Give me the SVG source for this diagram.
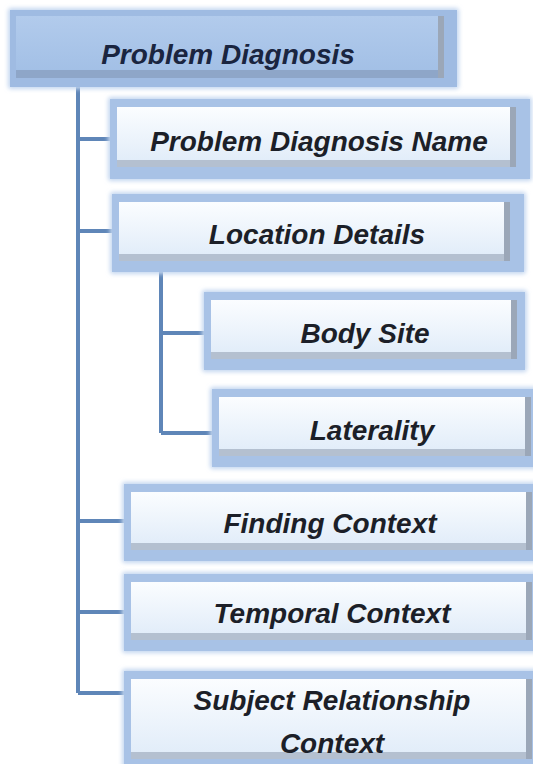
<svg xmlns="http://www.w3.org/2000/svg" width="533" height="764" viewBox="0 0 533 764">
<defs>
<linearGradient id="gChild" x1="0" y1="0" x2="0" y2="1">
<stop offset="0" stop-color="#fbfdff"/>
<stop offset="1" stop-color="#e2edf9"/>
</linearGradient>
<linearGradient id="gRoot" x1="0" y1="0" x2="0" y2="1">
<stop offset="0" stop-color="#b2cbec"/>
<stop offset="1" stop-color="#a3c0e6"/>
</linearGradient>
<filter id="blur" x="-5%" y="-10%" width="110%" height="120%"><feGaussianBlur stdDeviation="2"/></filter>
</defs>
<style>
.glow{fill:#c4d7f0;filter:url(#blur)}
.frame{fill:#a8c2e6}
.rframe{fill:#9fbbe2}
.rs{fill:#9ba7b8}
.bs{fill:#b4c0d0}
.rbs{fill:#8ea6c8}
.face{fill:url(#gChild)}
.rootface{fill:url(#gRoot)}
.lbl{font-family:"Liberation Sans",Arial,sans-serif;font-weight:bold;font-style:italic;font-size:28px;fill:#1c1f28;text-anchor:middle}
.rlbl{fill:#1a2540}
.conn{stroke:#5f86b8;stroke-width:4;fill:none}
</style>
<rect width="533" height="764" fill="#ffffff"/>
<g id="connectors">
<path class="conn" d="M78,70 V693 M78,139 H114 M78,231 H116 M78,521 H128 M78,612 H128 M78,693 H128"/>
<path class="conn" d="M161,268 V433 M161,333 H210 M161,433 H216"/>
</g>
<g id="root">
<rect class="glow" x="8" y="8" width="451" height="81" rx="3"/>
<rect class="rframe" x="10" y="10" width="447" height="77"/>
<rect class="rbs" x="16" y="70" width="428" height="8"/>
<rect class="rs" x="438" y="16" width="6" height="62"/>
<rect class="rootface" x="16" y="16" width="422" height="54"/>
<text class="lbl rlbl" x="228" y="64">Problem Diagnosis</text>
</g>
<g id="pdn">
<rect class="glow" x="108" y="97" width="424" height="84" rx="3"/>
<rect class="frame" x="110" y="99" width="420" height="80"/>
<rect class="bs" x="117" y="160" width="393" height="7"/>
<rect class="rs" x="510" y="107" width="6" height="60"/>
<rect class="face" x="117" y="107" width="393" height="53"/>
<text class="lbl" x="319" y="151">Problem Diagnosis Name</text>
</g>
<g id="ld">
<rect class="glow" x="110" y="192" width="416" height="82" rx="3"/>
<rect class="frame" x="112" y="194" width="412" height="78"/>
<rect class="bs" x="119" y="254" width="385" height="7"/>
<rect class="rs" x="504" y="202" width="6" height="59"/>
<rect class="face" x="119" y="202" width="385" height="52"/>
<text class="lbl" x="317" y="244">Location Details</text>
</g>
<g id="bs">
<rect class="glow" x="202" y="290" width="325" height="82" rx="3"/>
<rect class="frame" x="204" y="292" width="321" height="78"/>
<rect class="bs" x="211" y="352" width="300" height="7"/>
<rect class="rs" x="511" y="300" width="6" height="59"/>
<rect class="face" x="211" y="300" width="300" height="52"/>
<text class="lbl" x="365" y="343">Body Site</text>
</g>
<g id="lat">
<rect class="glow" x="210" y="387" width="334" height="82" rx="3"/>
<rect class="frame" x="212" y="389" width="330" height="78"/>
<rect class="bs" x="219" y="449" width="306" height="7"/>
<rect class="rs" x="525" y="397" width="6" height="59"/>
<rect class="face" x="219" y="397" width="306" height="52"/>
<text class="lbl" x="372" y="440">Laterality</text>
</g>
<g id="fc">
<rect class="glow" x="122" y="482" width="424" height="81" rx="3"/>
<rect class="frame" x="124" y="484" width="420" height="77"/>
<rect class="bs" x="131" y="543" width="395" height="7"/>
<rect class="rs" x="526" y="492" width="6" height="58"/>
<rect class="face" x="131" y="492" width="395" height="51"/>
<text class="lbl" x="330" y="533">Finding Context</text>
</g>
<g id="tc">
<rect class="glow" x="122" y="572" width="424" height="81" rx="3"/>
<rect class="frame" x="124" y="574" width="420" height="77"/>
<rect class="bs" x="131" y="633" width="395" height="7"/>
<rect class="rs" x="526" y="582" width="6" height="58"/>
<rect class="face" x="131" y="582" width="395" height="51"/>
<text class="lbl" x="332" y="623">Temporal Context</text>
</g>
<g id="src">
<rect class="glow" x="122" y="669" width="424" height="114" rx="3"/>
<rect class="frame" x="124" y="671" width="420" height="110"/>
<rect class="bs" x="131" y="752" width="395" height="7"/>
<rect class="rs" x="526" y="679" width="6" height="80"/>
<rect class="face" x="131" y="679" width="395" height="73"/>
<text class="lbl" x="332" y="710">Subject Relationship</text>
<text class="lbl" x="332" y="753">Context</text>
</g>
</svg>
